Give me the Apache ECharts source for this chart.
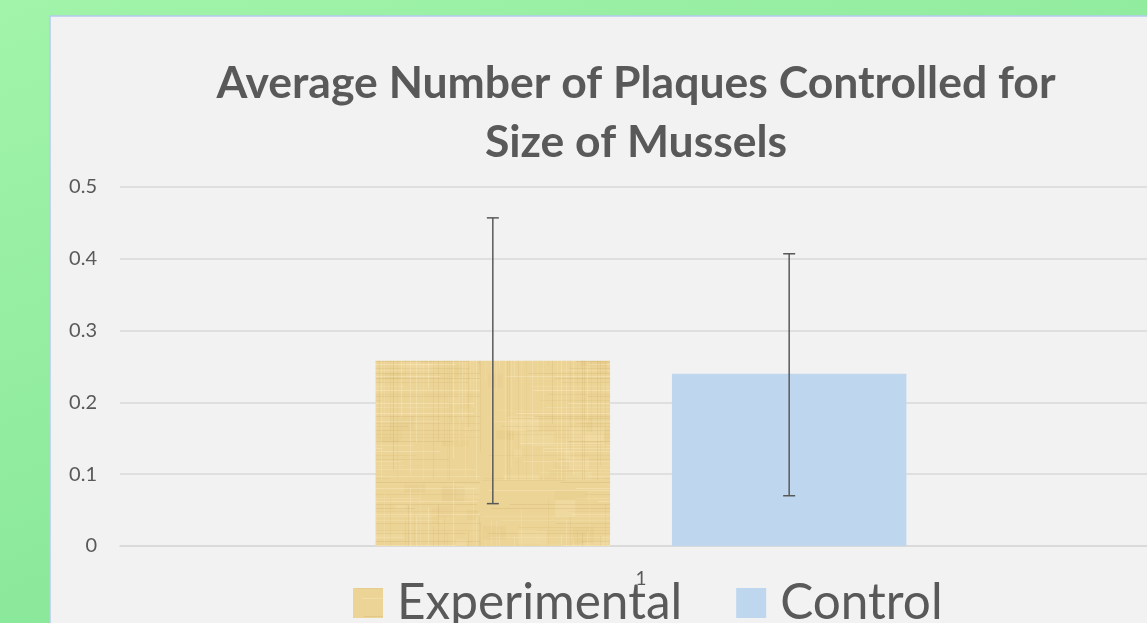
<!DOCTYPE html>
<html>
<head>
<meta charset="utf-8">
<script src="https://cdn.jsdelivr.net/npm/echarts@6/dist/echarts.min.js"></script>
<style>
html,body{margin:0;padding:0;width:1147px;height:623px;overflow:hidden;}
#chart{width:1162px;height:623px;}
</style>
</head>
<body>
<div id="chart"></div>
<script>
// ---- data ----
var categories = ['1'];
var seriesNames = ['Experimental', 'Control'];
var experimentalValues = [0.258];
var controlValues = [0.240];
var experimentalErrLow = [0.059];
var experimentalErrHigh = [0.457];
var controlErrLow = [0.070];
var controlErrHigh = [0.407];
var yTicks = ['0', '0.1', '0.2', '0.3', '0.4', '0.5'];
var titleLines = ['Average Number of Plaques Controlled for', 'Size of Mussels'];

// ---- papyrus-like texture (style only, deterministic) ----
function makePapyrus() {
  var S = 240;
  var c = document.createElement('canvas');
  c.width = S; c.height = S;
  var g = c.getContext('2d');
  g.fillStyle = '#ecd496';
  g.fillRect(0, 0, S, S);
  var seed = 11;
  function nx() { seed = (seed * 16807) % 2147483647; return (seed - 1) / 2147483646; }
  for (var i = 0; i < 60; i++) {
    var light = nx() > 0.5;
    g.fillStyle = light ? 'rgba(255,236,190,' + (0.08 + nx() * 0.14) + ')' : 'rgba(205,170,95,' + (0.04 + nx() * 0.08) + ')';
    g.fillRect(nx() * S, nx() * S, 6 + nx() * 30, 3 + nx() * 14);
  }
  for (var y = 0; y < S; y += 2 + Math.floor(nx() * 3)) {
    var light2 = nx() > 0.5;
    g.fillStyle = light2 ? 'rgba(255,240,205,' + (0.12 + nx() * 0.3) + ')' : 'rgba(185,150,80,' + (0.06 + nx() * 0.14) + ')';
    var x0 = nx() * S * 0.5;
    g.fillRect(x0, y, S * (0.3 + nx() * 0.7), 1);
  }
  for (var x = 0; x < S; x += 2 + Math.floor(nx() * 5)) {
    var light3 = nx() > 0.5;
    g.fillStyle = light3 ? 'rgba(255,240,205,' + (0.1 + nx() * 0.22) + ')' : 'rgba(185,150,80,' + (0.05 + nx() * 0.12) + ')';
    var y0 = nx() * S * 0.5;
    g.fillRect(x, y0, 1, S * (0.3 + nx() * 0.7));
  }
  return c;
}
var papyrus = makePapyrus();

var GRID_LEFT = 120, GRID_TOP = 187, GRID_BOTTOM = 77, GRID_RIGHT = 0;
var BAR_W = 0.225, BAR_GAP = 0.264;

function errorSeries(name, lows, highs, side) {
  return {
    type: 'custom',
    name: name + ' error',
    data: lows.map(function (l, i) { return [i, l, highs[i]]; }),
    z: 10,
    silent: true,
    renderItem: function (params, api) {
      var band = api.size([1, 0])[0];
      var bw = band * BAR_W;
      var off = side * (bw * (1 + BAR_GAP)) / 2;
      var lo = api.coord([api.value(0), api.value(1)]);
      var hi = api.coord([api.value(0), api.value(2)]);
      var x = lo[0] + off;
      var cap = 6;
      var st = { stroke: '#595959', lineWidth: 1.5 };
      return {
        type: 'group',
        children: [
          { type: 'line', shape: { x1: x, y1: lo[1], x2: x, y2: hi[1] }, style: st },
          { type: 'line', shape: { x1: x - cap, y1: lo[1], x2: x + cap, y2: lo[1] }, style: st },
          { type: 'line', shape: { x1: x - cap, y1: hi[1], x2: x + cap, y2: hi[1] }, style: st }
        ]
      };
    }
  };
}

var chart = echarts.init(document.getElementById('chart'), null, { renderer: 'canvas' });
var fontFam = 'Lato, "Open Sans", sans-serif';
chart.setOption({
  backgroundColor: {
    type: 'linear', x: 0, y: 0, x2: 0.2, y2: 1,
    colorStops: [{ offset: 0, color: '#a1f4aa' }, { offset: 1, color: '#88e799' }]
  },
  animation: false,
  graphic: [
    { type: 'rect', z: -10, silent: true,
      shape: { x: 50, y: 16, width: 1200, height: 700 },
      style: { fill: '#f2f2f2', stroke: '#b4cbef', lineWidth: 1.5 } },
    { type: 'text', z: 100, x: 636, y: 84,
      style: { text: titleLines[0], fill: '#595959', font: 'bold 44.5px ' + fontFam, textAlign: 'center', textVerticalAlign: 'middle' } },
    { type: 'text', z: 100, x: 636, y: 143,
      style: { text: titleLines[1], fill: '#595959', font: 'bold 44.5px ' + fontFam, textAlign: 'center', textVerticalAlign: 'middle' } }
  ],
  grid: { left: GRID_LEFT, top: GRID_TOP, bottom: GRID_BOTTOM, right: GRID_RIGHT, containLabel: false },
  legend: {
    data: seriesNames,
    left: 353, top: 578, padding: 0,
    itemWidth: 30, itemHeight: 30, itemGap: 54,
    icon: 'rect',
    textStyle: { fontSize: 49.5, color: '#595959', fontFamily: fontFam, padding: [0, 0, 0, 9] },
    selectedMode: false
  },
  xAxis: {
    type: 'category', data: categories,
    axisLine: { lineStyle: { color: '#d9d9d9', width: 1.5 } },
    axisTick: { show: false },
    axisLabel: { color: '#595959', fontSize: 19, fontFamily: fontFam, margin: 23 }
  },
  yAxis: {
    type: 'value', min: 0, max: 0.5, interval: 0.1,
    axisLine: { show: false }, axisTick: { show: false },
    splitLine: { lineStyle: { color: '#d9d9d9', width: 1.5 } },
    axisLabel: {
      color: '#595959', fontSize: 20, fontFamily: fontFam, margin: 23,
      formatter: function (v) { return yTicks[Math.round(v * 10)]; }
    }
  },
  series: [
    { type: 'bar', name: seriesNames[0], data: experimentalValues,
      barWidth: (BAR_W * 100) + '%', barGap: (BAR_GAP * 100) + '%',
      itemStyle: { color: { image: papyrus, repeat: 'repeat' } } },
    { type: 'bar', name: seriesNames[1], data: controlValues,
      barWidth: (BAR_W * 100) + '%', barGap: (BAR_GAP * 100) + '%',
      itemStyle: { color: '#bfd7ee' } },
    errorSeries(seriesNames[0], experimentalErrLow, experimentalErrHigh, -1),
    errorSeries(seriesNames[1], controlErrLow, controlErrHigh, 1)
  ]
});
</script>
</body>
</html>
